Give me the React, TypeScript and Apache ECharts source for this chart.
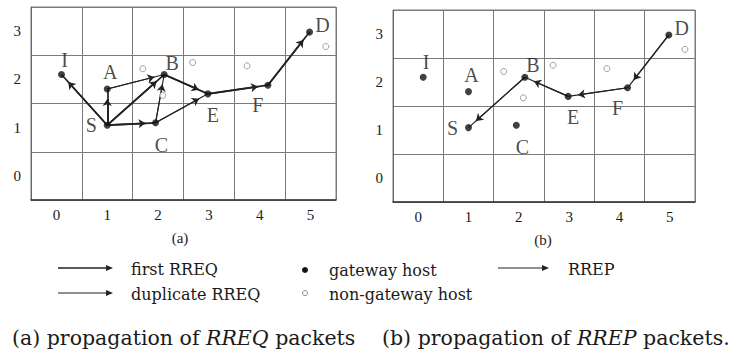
import React, { useEffect, useRef } from 'react';
import * as echarts from 'echarts';

// gateway hosts (filled dots)
const nodeNames = ['I', 'A', 'S', 'C', 'B', 'E', 'F', 'D'];
const nodeX = [0.1, 1.0, 1.0, 1.95, 2.12, 2.98, 4.16, 4.98];
const nodeY = [2.1, 1.8, 1.05, 1.1, 2.1, 1.7, 1.88, 2.98];
// non-gateway hosts (open circles)
const hostX = [1.7, 2.68, 3.75, 5.3, 2.09];
const hostY = [2.22, 2.35, 2.28, 2.68, 1.67];
// tick labels
const xTicks = [0, 1, 2, 3, 4, 5];
const yTicks = [0, 1, 2, 3];
// edges
const firstRreq = [['S', 'I'], ['S', 'A'], ['S', 'B'], ['S', 'C'], ['B', 'E'], ['E', 'F'], ['F', 'D']];
const dupRreq = [['A', 'B'], ['C', 'B'], ['C', 'E']];
const rrep = [['D', 'F'], ['F', 'E'], ['E', 'B'], ['B', 'S']];

const labelOffset: Record<string, [number, number]> = {
  I: [3, -15], A: [3, -17], S: [-16, 0], B: [8, -12], C: [6, 22], E: [5, 21], F: [-10, 20], D: [13, -7],
};

const SERIF = 'Liberation Serif';
const SERIF2 = 'DejaVu Serif';
const INK = '#1a1a1a';

function pt(n: string): [number, number] {
  const i = nodeNames.indexOf(n);
  return [nodeX[i], nodeY[i]];
}
function near(a: string, b: string): [number, number] {
  const [ax, ay] = pt(a);
  const [bx, by] = pt(b);
  const dx = bx - ax, dy = by - ay;
  const L = Math.sqrt((dx * 50.6) ** 2 + (dy * 48) ** 2);
  const t = 1 - 10 / L;
  return [ax + dx * t, ay + dy * t];
}

function isTick(v: number, ticks: number[]) {
  return ticks.some((t) => Math.abs(t - v) < 1e-6);
}

function axesFor(g: number) {
  const x = [
    {
      gridIndex: g, type: 'value', min: -0.5, max: 5.5, interval: 0.5, position: 'bottom',
      axisLine: { show: true, onZero: false, lineStyle: { color: '#333', width: 1.5 } },
      axisTick: { show: false }, splitLine: { show: false },
      axisLabel: {
        margin: 7, color: INK, fontFamily: SERIF, fontSize: 15,
        formatter: (v: number) => (isTick(v, xTicks) ? String(Math.round(v)) : ''),
      },
    },
    {
      gridIndex: g, type: 'value', min: -0.5, max: 5.5, interval: 1, position: 'top',
      axisLine: { show: false, onZero: false }, axisTick: { show: false }, axisLabel: { show: false },
      splitLine: { show: true, lineStyle: { color: '#7a7a7a', width: 1 } },
    },
  ];
  const y = [
    {
      gridIndex: g, type: 'value', min: -0.5, max: 3.5, interval: 0.5, position: 'left',
      axisLine: { show: true, onZero: false, lineStyle: { color: '#666', width: 1 } },
      axisTick: { show: false }, splitLine: { show: false },
      axisLabel: {
        margin: 10, color: INK, fontFamily: SERIF, fontSize: 15, padding: [5, 0, 0, 0],
        formatter: (v: number) => (isTick(v, yTicks) ? String(Math.round(v)) : ''),
      },
    },
    {
      gridIndex: g, type: 'value', min: -0.5, max: 3.5, interval: 1, position: 'right',
      axisLine: { show: false, onZero: false }, axisTick: { show: false }, axisLabel: { show: false },
      splitLine: { show: true, lineStyle: { color: '#7a7a7a', width: 1 } },
    },
  ];
  return { x, y };
}

function seriesFor(g: number, groups: { edges: string[][]; width: number }[]) {
  const xi = g * 2, yi = g * 2;
  const out: any[] = [];
  groups.forEach(({ edges, width }) => {
    out.push({
      type: 'lines', coordinateSystem: 'cartesian2d', xAxisIndex: xi, yAxisIndex: yi, z: 3,
      symbol: ['none', 'none'], silent: true,
      lineStyle: { color: '#222', width, opacity: 1, type: 'solid' },
      data: edges.map(([a, b]) => ({ coords: [pt(a), pt(b)] })),
    });
    out.push({
      type: 'lines', coordinateSystem: 'cartesian2d', xAxisIndex: xi, yAxisIndex: yi, z: 4,
      symbol: ['none', 'arrow'], symbolSize: 7, silent: true,
      lineStyle: { color: '#222', width, opacity: 1, type: 'solid' },
      data: edges.map(([a, b]) => ({ coords: [pt(a), near(a, b)] })),
    });
  });
  out.push({
    type: 'scatter', xAxisIndex: xi, yAxisIndex: yi, z: 5, symbol: 'circle', symbolSize: 6,
    itemStyle: { color: '#fff', borderColor: '#888', borderWidth: 1 },
    data: hostX.map((x, i) => [x, hostY[i]]),
  });
  out.push({
    type: 'scatter', xAxisIndex: xi, yAxisIndex: yi, z: 6, symbol: 'circle', symbolSize: 7,
    itemStyle: { color: '#111' },
    data: nodeNames.map((n, i) => ({
      name: n, value: [nodeX[i], nodeY[i]],
      label: {
        show: true, position: 'inside', offset: labelOffset[n], formatter: n,
        color: INK, fontFamily: SERIF, fontSize: 20,
      },
    })),
  });
  return out;
}

export default function App() {
  const ref = useRef<HTMLDivElement>(null);
  useEffect(() => {
    if (!ref.current) return;
    const chart = echarts.init(ref.current, undefined, { renderer: 'svg' });
    const a0 = axesFor(0);
    const a1 = axesFor(1);
    const txt = (x: number, y: number, text: string, size: number, align = 'left', font = SERIF2) => ({
      type: 'text', x, y,
      style: { text, fill: INK, fontFamily: font, fontSize: size, align, verticalAlign: 'middle' },
    });
    const arrow = (x1: number, x2: number, y: number, w: number) => [
      { type: 'line', shape: { x1, y1: y, x2: x2 - 4, y2: y }, style: { stroke: '#222', lineWidth: w } },
      { type: 'polygon', shape: { points: [[x2 - 7, y - 3], [x2, y], [x2 - 7, y + 3]] }, style: { fill: '#222' } },
    ];
    const caption = (x: number, pre: string, it: string, post: string) => ({
      type: 'text', x, y: 338,
      style: {
        text: `${pre}{i|${it}}${post}`, fill: INK, fontFamily: SERIF2, fontSize: 20.5, verticalAlign: 'middle',
        rich: { i: { fontStyle: 'italic', fontFamily: SERIF2, fontSize: 20.5, fill: INK } },
      },
    });
    chart.setOption({
      animation: false,
      backgroundColor: '#fff',
      grid: [
        { left: 31, top: 7, width: 305, height: 193, show: true, borderColor: '#7a7a7a', borderWidth: 1 },
        { left: 393, top: 10, width: 302, height: 192, show: true, borderColor: '#7a7a7a', borderWidth: 1 },
      ],
      xAxis: [...a0.x, ...a1.x],
      yAxis: [...a0.y, ...a1.y],
      series: [
        ...seriesFor(0, [{ edges: firstRreq, width: 1.7 }, { edges: dupRreq, width: 1.1 }]),
        ...seriesFor(1, [{ edges: rrep, width: 1.2 }]),
      ],
      graphic: [
        txt(180, 238, '(a)', 15, 'center', SERIF),
        txt(543, 240, '(b)', 15, 'center', SERIF),
        ...arrow(58, 113, 268, 1.7),
        txt(131, 269, 'first RREQ', 16),
        ...arrow(58, 113, 293, 1.1),
        txt(131, 294, 'duplicate RREQ', 16),
        { type: 'circle', shape: { cx: 305, cy: 270, r: 3 }, style: { fill: '#111' } },
        txt(329, 270, 'gateway host', 16),
        { type: 'circle', shape: { cx: 305, cy: 293, r: 2.5 }, style: { fill: '#fff', stroke: '#888', lineWidth: 1 } },
        txt(329, 294, 'non-gateway host', 16),
        ...arrow(498, 549, 268, 1.1),
        txt(568, 269, 'RREP', 16),
        caption(12, '(a) propagation of ', 'RREQ', ' packets'),
        caption(382, '(b) propagation of ', 'RREP', ' packets.'),
      ],
    });
    return () => chart.dispose();
  }, []);
  return <div ref={ref} style={{ position: 'fixed', left: 0, top: 0, width: 732, height: 352 }} />;
}
